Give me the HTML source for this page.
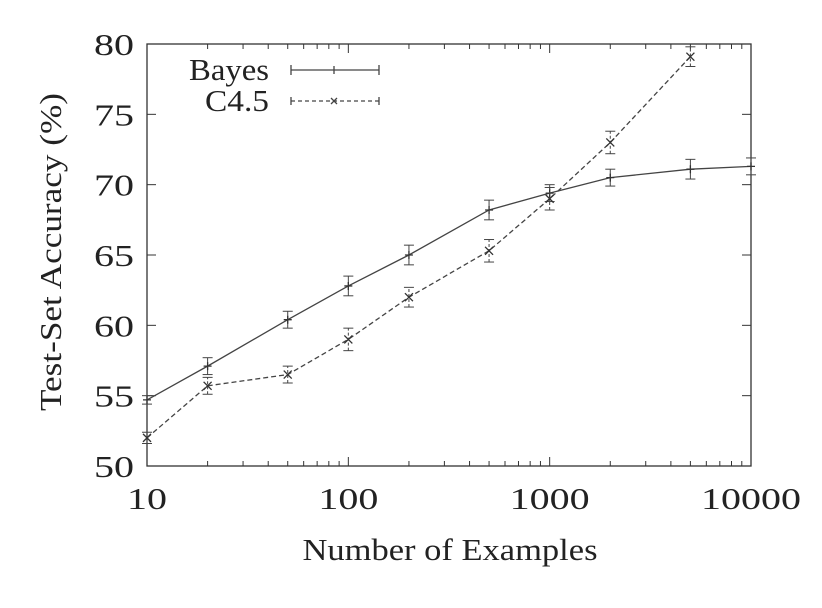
<!DOCTYPE html>
<html><head><meta charset="utf-8"><style>
body{margin:0;background:#fff}
svg text{font-family:"Liberation Serif","DejaVu Serif",serif;fill:#222}
</style></head><body>
<svg width="822" height="603" xmlns="http://www.w3.org/2000/svg" font-family="Liberation Serif, DejaVu Serif, serif">
<g id="g"></g>
</svg>
<script>
const categories=[10,20,50,100,200,500,1000,2000,5000,10000];
const bayesValues=[54.7,57.1,60.4,62.8,65.0,68.2,69.4,70.5,71.1,71.3];
const bayesErr=[0.3,0.6,0.6,0.7,0.7,0.7,0.6,0.6,0.7,0.6];
const c45Values=[52.0,55.7,56.5,59.0,62.0,65.3,69.0,73.0,79.1];
const c45Err=[0.4,0.6,0.6,0.8,0.7,0.8,0.8,0.8,0.7];
const yTicks=[50,55,60,65,70,75,80];
const xTicks=[10,100,1000,10000];
const L=147,R=751,T=44,B=466;
const X=v=>L+(Math.log10(v)-1)/3*(R-L);
const Y=v=>B-(v-50)/30*(B-T);
const g=document.getElementById('g');
const NS='http://www.w3.org/2000/svg';
function mk(t,a,p){const e=document.createElementNS(NS,t);for(const k in a)e.setAttribute(k,a[k]);(p||g).appendChild(e);return e;}
const frame=mk('rect',{x:L,y:T,width:R-L,height:B-T,fill:'none',stroke:'#333','stroke-width':1.3});


yTicks.forEach(v=>{
  mk('line',{x1:L,x2:L+9,y1:Y(v),y2:Y(v),stroke:'#333'});
  mk('line',{x1:R,x2:R-9,y1:Y(v),y2:Y(v),stroke:'#333'});
  const t=mk('text',{x:L-13,y:Y(v)+11,'text-anchor':'end','font-size':31,textLength:40,lengthAdjust:'spacingAndGlyphs'});t.textContent=v;
  
  
});
for(let d=10;d<10000;d*=10){for(let m=1;m<10;m++){const v=d*m;const len=m==1?9:5;
  mk('line',{x1:X(v),x2:X(v),y1:B,y2:B-len,stroke:'#333'});
  mk('line',{x1:X(v),x2:X(v),y1:T,y2:T+len,stroke:'#333'});}}
xTicks.forEach(v=>{
  const n=String(v).length;
  const t=mk('text',{x:X(v),y:B+43,'text-anchor':'middle','font-size':31,textLength:20*n,lengthAdjust:'spacingAndGlyphs'});t.textContent=v;
  
  
});
let t=mk('text',{x:450,y:560,'text-anchor':'middle','font-size':31,textLength:295,lengthAdjust:'spacingAndGlyphs'});t.textContent='Number of Examples';


t=mk('text',{x:0,y:0,'text-anchor':'middle','font-size':31,textLength:318,lengthAdjust:'spacingAndGlyphs',transform:'translate(61,252) rotate(-90)'});t.textContent='Test-Set Accuracy (%)';


function series(vals,errs,dash,marker,name){
  const pts=vals.map((v,i)=>X(categories[i])+','+Y(v)).join(' ');
  const pl=mk('polyline',{points:pts,fill:'none',stroke:'#444','stroke-width':1.3,'stroke-dasharray':dash});
  
  
  vals.forEach((v,i)=>{const x=X(categories[i]),e=errs[i];
    mk('line',{x1:x,x2:x,y1:Y(v-e),y2:Y(v+e),stroke:'#444','stroke-dasharray':dash?'3,2':''});
    mk('line',{x1:x-5,x2:x+5,y1:Y(v-e),y2:Y(v-e),stroke:'#444'});
    mk('line',{x1:x-5,x2:x+5,y1:Y(v+e),y2:Y(v+e),stroke:'#444'});
    const y=Y(v);
    const p=marker=='+'?`M${x-4},${y}H${x+4}M${x},${y-4}V${y+4}`:`M${x-4},${y-4}L${x+4},${y+4}M${x-4},${y+4}L${x+4},${y-4}`;
    const m=mk('path',{d:p,stroke:'#333','stroke-width':1.3});
    
    
  });
}
series(bayesValues,bayesErr,'', '+','bayes');
series(c45Values,c45Err,'5,3','x','c45');
t=mk('text',{x:269,y:80,'text-anchor':'end','font-size':31,textLength:80,lengthAdjust:'spacingAndGlyphs'});t.textContent='Bayes';


t=mk('text',{x:269,y:111,'text-anchor':'end','font-size':31,textLength:64,lengthAdjust:'spacingAndGlyphs'});t.textContent='C4.5';


mk('path',{d:'M291,70H379M291,65V75M379,65V75M334,66V74M330,70H338',stroke:'#444','stroke-width':1.3});
mk('path',{d:'M291,101H379',stroke:'#444','stroke-width':1.3,'stroke-dasharray':'4,3'});
mk('path',{d:'M291,97V105M379,97V105M331,98L337,104M331,104L337,98',stroke:'#444','stroke-width':1.3});
</script>
</body></html>
